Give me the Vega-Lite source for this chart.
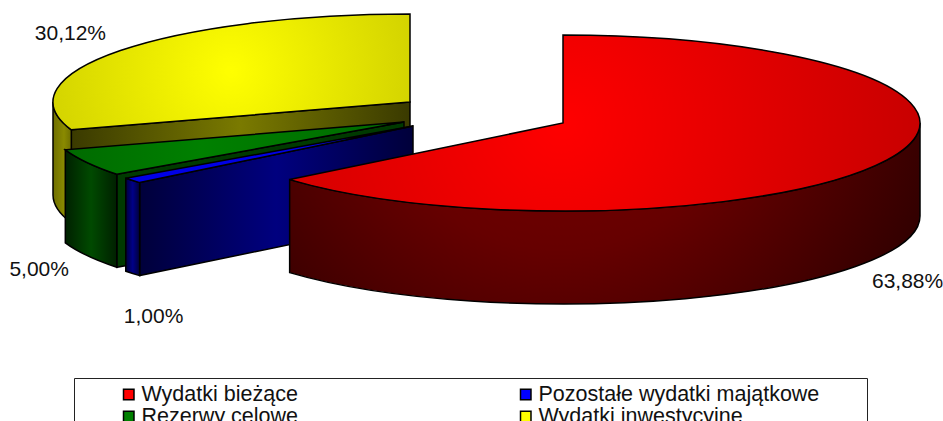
{"$schema":"https://vega.github.io/schema/vega-lite/v6.json","width":943,"height":421,"padding":0,"autosize":{"type":"none"},"background":"white","config":{"view":{"stroke":null}},
"data":{"values":[{"kategoria":"Wydatki bieżące","udzial":63.88},{"kategoria":"Pozostałe wydatki majątkowe","udzial":1.0},{"kategoria":"Rezerwy celowe","udzial":5.0},{"kategoria":"Wydatki inwestycyjne","udzial":30.12}]},
"transform":[
{"window":[{"op":"sum","field":"udzial","as":"c2"}],"frame":[null,0]},
{"calculate":"(datum.c2-datum.udzial)/100*2*PI","as":"a1"},
{"calculate":"datum.c2/100*2*PI","as":"a2"},
{"calculate":"datum.kategoria[0]=='P'?-58.5:datum.kategoria[0]=='R'?-67.5:datum.kategoria=='Wydatki inwestycyjne'?-61.5:91.5","as":"cx"},
{"calculate":"datum.kategoria[0]=='P'?-84.5:datum.kategoria[0]=='R'?-88.5:datum.kategoria=='Wydatki inwestycyjne'?-108.5:-87.5","as":"cy"},
{"calculate":"max(datum.a1,PI/2)","as":"v1"},
{"calculate":"min(datum.a2,3*PI/2)","as":"v2"},
{"calculate":"round(datum.cx*100)/100+' '+round(datum.cy*100)/100","as":"C"},
{"calculate":"round(datum.cx*100)/100+' '+round((datum.cy+93)*100)/100","as":"Cd"},
{"calculate":"round((datum.cx+357*sin(datum.a1))*100)/100+' '+round((datum.cy-88*cos(datum.a1))*100)/100","as":"P1"},
{"calculate":"round((datum.cx+357*sin(datum.a1))*100)/100+' '+round((datum.cy+93-88*cos(datum.a1))*100)/100","as":"P1d"},
{"calculate":"round((datum.cx+357*sin(datum.a2))*100)/100+' '+round((datum.cy-88*cos(datum.a2))*100)/100","as":"P2"},
{"calculate":"round((datum.cx+357*sin(datum.v1))*100)/100+' '+round((datum.cy-88*cos(datum.v1))*100)/100","as":"V1"},
{"calculate":"round((datum.cx+357*sin(datum.v2))*100)/100+' '+round((datum.cy-88*cos(datum.v2))*100)/100","as":"V2"},
{"calculate":"round((datum.cx+357*sin(datum.v1))*100)/100+' '+round((datum.cy+93-88*cos(datum.v1))*100)/100","as":"V1d"},
{"calculate":"round((datum.cx+357*sin(datum.v2))*100)/100+' '+round((datum.cy+93-88*cos(datum.v2))*100)/100","as":"V2d"},
{"calculate":"'M '+datum.C+' L '+datum.P1+' A 357 88 0 '+(datum.a2-datum.a1>PI?'1':'0')+' 1 '+datum.P2+' Z'","as":"gora"},
{"calculate":"'M '+datum.V1+' A 357 88 0 0 1 '+datum.V2+' L '+datum.V2d+' A 357 88 0 0 0 '+datum.V1d+' Z'","as":"bok"},
{"calculate":"'M '+datum.C+' L '+datum.P1+' L '+datum.P1d+' L '+datum.Cd+' Z'","as":"sciana"},
{"calculate":"(datum.a1+datum.a2)/2","as":"mid"},
{"calculate":"471.5+datum.cx+357*sin(datum.mid)+(datum.kategoria[0]=='P'?21:datum.kategoria[0]=='R'?-48:datum.kategoria=='Wydatki inwestycyjne'?-50:21)","as":"lx"},
{"calculate":"210.5+datum.cy-88*cos(datum.mid)+(datum.kategoria[0]=='P'?137:datum.kategoria[0]=='R'?107:datum.kategoria=='Wydatki inwestycyjne'?-17:122)","as":"ly"},
{"calculate":"replace(format(datum.udzial,'.2f'),'.',',')+'%'","as":"etykieta"}
],
"layer":[
{"mark":{"type":"point","filled":true,"size":4,"opacity":1},"encoding":{"shape":{"field":"gora","type":"nominal","scale":null},"color":{"field":"kategoria","type":"nominal","scale":{"domain":["Wydatki bieżące","Rezerwy celowe","Pozostałe wydatki majątkowe","Wydatki inwestycyjne"],"range":["#ff0000","#008000","#0000ff","#ffff00"]},"legend":{"title":"\u00a0","titleOrient":"right","titlePadding":40,"titleFontSize":2,"orient":"none","legendX":74,"legendY":378,"columns":2,"columnPadding":180,"clipHeight":17,"rowPadding":0,"padding":8,"strokeColor":"#222222","fillColor":"white","symbolType":"square","symbolSize":110,"symbolStrokeColor":"black","symbolStrokeWidth":1.5,"symbolOffset":36,"labelFont":"Liberation Sans","labelFontSize":21.5,"labelColor":"#111111","labelLimit":500,"labelOffset":2,"symbolOpacity":1}}}},
{"transform":[{"filter":"datum.kategoria=='Wydatki inwestycyjne'"}],"mark":{"type":"point","filled":true,"size":4,"opacity":1,"stroke":"black","strokeWidth":1.5,"fill":{"gradient":"linear","x1":0,"x2":1,"y1":0,"y2":0,"stops":[{"offset":0,"color":"#3a3a00"},{"offset":0.5,"color":"#7a7a00"},{"offset":1,"color":"#3a3a00"}]}},"encoding":{"shape":{"field":"sciana","type":"nominal","scale":null}}},
{"transform":[{"filter":"datum.kategoria=='Wydatki inwestycyjne'"}],"mark":{"type":"point","filled":true,"size":4,"opacity":1,"stroke":"black","strokeWidth":1.5,"fill":{"gradient":"linear","x1":0,"x2":1,"y1":0,"y2":0,"stops":[{"offset":0,"color":"#6f6f00"},{"offset":0.6,"color":"#8a8a00"},{"offset":1,"color":"#6f6f00"}]}},"encoding":{"shape":{"field":"bok","type":"nominal","scale":null}}},
{"transform":[{"filter":"datum.kategoria=='Wydatki inwestycyjne'"}],"mark":{"type":"point","filled":true,"size":4,"opacity":1,"stroke":"black","strokeWidth":1.5,"fill":{"gradient":"radial","x1":0.5,"y1":0.5,"r1":0,"x2":0.5,"y2":0.5,"r2":0.7,"stops":[{"offset":0,"color":"#ffff00"},{"offset":1,"color":"#c4c400"}]}},"encoding":{"shape":{"field":"gora","type":"nominal","scale":null}}},
{"transform":[{"filter":"datum.kategoria=='Rezerwy celowe'"}],"mark":{"type":"point","filled":true,"size":4,"opacity":1,"stroke":"black","strokeWidth":1.5,"fill":"#003a00"},"encoding":{"shape":{"field":"sciana","type":"nominal","scale":null}}},
{"transform":[{"filter":"datum.kategoria=='Rezerwy celowe'"}],"mark":{"type":"point","filled":true,"size":4,"opacity":1,"stroke":"black","strokeWidth":1.5,"fill":{"gradient":"linear","x1":0,"x2":1,"y1":0,"y2":0,"stops":[{"offset":0,"color":"#002000"},{"offset":0.5,"color":"#004a00"},{"offset":1,"color":"#002000"}]}},"encoding":{"shape":{"field":"bok","type":"nominal","scale":null}}},
{"transform":[{"filter":"datum.kategoria=='Rezerwy celowe'"}],"mark":{"type":"point","filled":true,"size":4,"opacity":1,"stroke":"black","strokeWidth":1.5,"fill":{"gradient":"linear","x1":0,"x2":1,"y1":0,"y2":0,"stops":[{"offset":0,"color":"#006a00"},{"offset":0.4,"color":"#008000"},{"offset":1,"color":"#006a00"}]}},"encoding":{"shape":{"field":"gora","type":"nominal","scale":null}}},
{"transform":[{"filter":"datum.kategoria=='Pozostałe wydatki majątkowe'"}],"mark":{"type":"point","filled":true,"size":4,"opacity":1,"stroke":"black","strokeWidth":1.5,"fill":{"gradient":"linear","x1":0,"x2":1,"y1":0,"y2":0,"stops":[{"offset":0,"color":"#00003a"},{"offset":0.5,"color":"#00007f"},{"offset":1,"color":"#00003a"}]}},"encoding":{"shape":{"field":"sciana","type":"nominal","scale":null}}},
{"transform":[{"filter":"datum.kategoria=='Pozostałe wydatki majątkowe'"}],"mark":{"type":"point","filled":true,"size":4,"opacity":1,"stroke":"black","strokeWidth":1.5,"fill":{"gradient":"linear","x1":0,"x2":1,"y1":0,"y2":0,"stops":[{"offset":0,"color":"#00003a"},{"offset":0.5,"color":"#000088"},{"offset":1,"color":"#00003a"}]}},"encoding":{"shape":{"field":"bok","type":"nominal","scale":null}}},
{"transform":[{"filter":"datum.kategoria=='Pozostałe wydatki majątkowe'"}],"mark":{"type":"point","filled":true,"size":4,"opacity":1,"stroke":"black","strokeWidth":1.5,"fill":"#0000e6"},"encoding":{"shape":{"field":"gora","type":"nominal","scale":null}}},
{"transform":[{"filter":"datum.kategoria=='Wydatki bieżące'"}],"mark":{"type":"point","filled":true,"size":4,"opacity":1,"stroke":"black","strokeWidth":1.5,"fill":{"gradient":"radial","x1":0.43,"y1":0.25,"r1":0,"x2":0.43,"y2":0.25,"r2":0.68,"stops":[{"offset":0,"color":"#7c0000"},{"offset":0.45,"color":"#660000"},{"offset":1,"color":"#2a0000"}]}},"encoding":{"shape":{"field":"bok","type":"nominal","scale":null}}},
{"transform":[{"filter":"datum.kategoria=='Wydatki bieżące'"}],"mark":{"type":"point","filled":true,"size":4,"opacity":1,"stroke":"black","strokeWidth":1.5,"fill":{"gradient":"radial","x1":0.43,"y1":0.5,"r1":0,"x2":0.43,"y2":0.5,"r2":0.62,"stops":[{"offset":0,"color":"#ff0000"},{"offset":1,"color":"#c40000"}]}},"encoding":{"shape":{"field":"gora","type":"nominal","scale":null}}},
{"mark":{"type":"text","font":"Liberation Sans","fontSize":21,"align":"center","baseline":"middle","color":"#111111"},"encoding":{"text":{"field":"etykieta","type":"nominal"},"x":{"field":"lx","type":"quantitative","scale":null},"y":{"field":"ly","type":"quantitative","scale":null}}}
]}
